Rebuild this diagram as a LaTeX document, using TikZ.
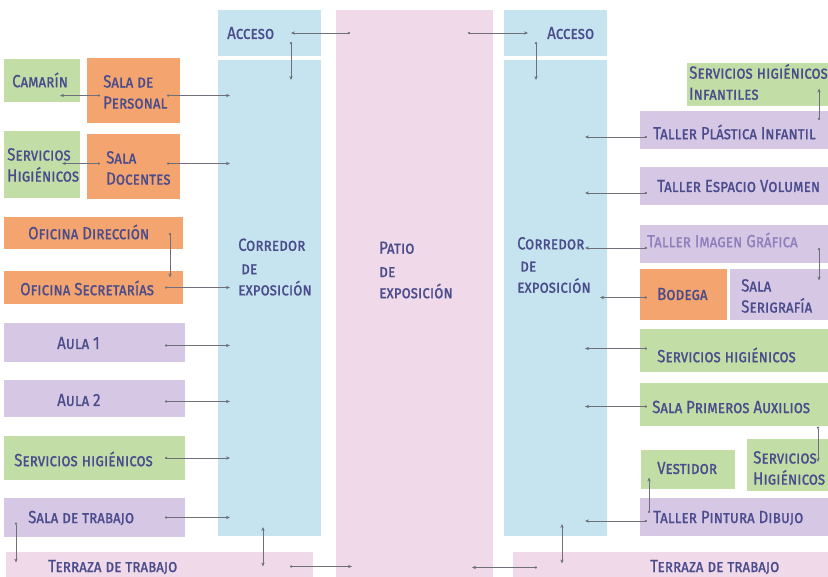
\documentclass[tikz,border=0pt]{standalone}
\usepackage{fontspec}
\usepackage{xcolor}
\usepackage{tikz}
\usetikzlibrary{arrows.meta, positioning, fit, calc}

\newfontfamily\roomfont{Fira Sans}[FakeStretch=0.85, FakeBold=0.8]

\definecolor{corrblue}{HTML}{C6E4F0}
\definecolor{patiopink}{HTML}{F0DAEA}
\definecolor{roomgreen}{HTML}{C2DDA6}
\definecolor{roomorange}{HTML}{F4A46E}
\definecolor{roompurple}{HTML}{D6C7E5}
\definecolor{ink}{HTML}{4A4C8C}
\definecolor{inklight}{HTML}{8E80BC}
\definecolor{linkgray}{HTML}{6F6F7A}

\tikzset{
  room/.style={inner sep=0pt, outer sep=0pt, fill=#1},
  lbl/.style={font=\roomfont\scshape\fontsize{15}{18}\selectfont, text=ink,
    anchor=west, inner sep=0pt, align=left},
  link/.style={draw=linkgray, line width=0.5pt,
    {Circle[length=0.7mm]}-{Stealth[length=1.2mm, width=1mm]}},
  linkboth/.style={draw=linkgray, line width=0.5pt,
    {Stealth[length=1.2mm, width=1mm]}-{Stealth[length=1.2mm, width=1mm]}},
}

\begin{document}
\begin{tikzpicture}[x=0.3mm, y=-0.3mm]
  \useasboundingbox (0,0) rectangle (828,577);

  % ── Patio and corridors ──
  \node[room=patiopink, fit={(336,10)(493,577)}] (patio) {};
  \node[room=corrblue, fit={(218,10)(321,56)}] (accL) {};
  \node[room=corrblue, fit={(218,60)(321,536)}] (corrL) {};
  \node[room=corrblue, fit={(504,10)(607,56)}] (accR) {};
  \node[room=corrblue, fit={(504,60)(607,536)}] (corrR) {};

  % ── Left rooms ──
  \node[room=roomgreen, fit={(4,59)(80,102)}] (camarin) {};
  \node[room=roomorange, fit={(87,58)(180,123)}] (perso) {};
  \node[room=roomgreen, fit={(4,131)(80,198)}] (shL) {};
  \node[room=roomorange, fit={(87,134)(180,199)}] (docen) {};
  \node[room=roomorange, fit={(4,217)(183,249)}] (dirc) {};
  \node[room=roomorange, fit={(4,271)(183,304)}] (secr) {};
  \node[room=roompurple, fit={(4,323)(185,362)}] (aula1) {};
  \node[room=roompurple, fit={(4,380)(185,417)}] (aula2) {};
  \node[room=roomgreen, fit={(4,436)(185,480)}] (shL2) {};
  \node[room=roompurple, fit={(4,498)(185,537)}] (trab) {};
  \node[room=patiopink, fit={(6,552)(313,577)}] (terrL) {};

  % ── Right rooms ──
  \node[room=roomgreen, fit={(687,63)(828,106)}] (shinf) {};
  \node[room=roompurple, fit={(640,111)(828,149)}] (plast) {};
  \node[room=roompurple, fit={(640,167)(828,205)}] (espac) {};
  \node[room=roompurple, fit={(640,225)(828,263)}] (imag) {};
  \node[room=roomorange, fit={(640,269)(727,320)}] (bodega) {};
  \node[room=roompurple, fit={(730,269)(828,320)}] (seri) {};
  \node[room=roomgreen, fit={(640,329)(828,372)}] (shR) {};
  \node[room=roomgreen, fit={(640,383)(828,426)}] (aux) {};
  \node[room=roomgreen, fit={(747,439)(828,491)}] (shR2) {};
  \node[room=roomgreen, fit={(641,450)(735,489)}] (vest) {};
  \node[room=roompurple, fit={(640,498)(828,536)}] (pint) {};
  \node[room=patiopink, fit={(513,552)(828,577)}] (terrR) {};

  % ── Labels ──
  \node[lbl] (accL-t) at (227,33) {Acceso};
  \node[lbl] (accR-t) at (547,33) {Acceso};
  \node[lbl] (patio-t) at (379,270) {Patio\\[2pt]de\\exposición};
  \node[lbl] (corrL-t) at (238,267) {Corredor\\[2pt]\,de\\exposición};
  \node[lbl] (corrR-t) at (517,265) {Corredor\\[1pt]\,de\\exposición};

  \node[lbl] (camarin-t) at (12,80) {Camarín};
  \node[lbl] (perso-t) at (103,92) {Sala de\\Personal};
  \node[lbl] (shL-t) at (7,165) {Servicios\\Higiénicos};
  \node[lbl] (docen-t) at (106,168) {Sala\\Docentes};
  \node[lbl] (dirc-t) at (28,232) {Oficina Dirección};
  \node[lbl] (secr-t) at (20,288) {Oficina Secretarías};
  \node[lbl] (aula1-t) at (57,343) {Aula 1};
  \node[lbl] (aula2-t) at (57,400) {Aula 2};
  \node[lbl] (shL2-t) at (14,459) {Servicios higiénicos};
  \node[lbl] (trab-t) at (28,518) {Sala de trabajo};
  \node[lbl] (terrL-t) at (48,567) {Terraza de trabajo};

  \node[lbl] (shinf-t) at (689,82) {Servicios higiénicos\\Infantiles};
  \node[lbl] (plast-t) at (653,132) {Taller Plástica Infantil};
  \node[lbl] (espac-t) at (657,186) {Taller Espacio Volumen};
  \node[lbl, text=inklight] (imag-t) at (647,240) {Taller Imagen Gráfica};
  \node[lbl] (bodega-t) at (657,294) {Bodega};
  \node[lbl] (seri-t) at (741,296) {Sala\\Serigrafía};
  \node[lbl] (shR-t) at (657,355) {Servicios higiénicos};
  \node[lbl] (aux-t) at (652,407) {Sala Primeros Auxilios};
  \node[lbl] (shR2-t) at (753,468) {Servicios\\Higiénicos};
  \node[lbl] (vest-t) at (657,468) {Vestidor};
  \node[lbl] (pint-t) at (653,518) {Taller Pintura Dibujo};
  \node[lbl] (terrR-t) at (650,567) {Terraza de trabajo};

  % ── Left links ──
  \draw[link] ($(patio.west |- accL.east)+(14,0)$) -- ($(accL.east)+(-30,0)$);
  \draw[link] ($(accL.east)+(-30,9)$) -- ($(corrL.north east)+(-30,20)$);
  \draw[link] ($(perso.west)+(13,5)$) -- ($(camarin.east |- perso.west)+(-20,5)$);
  \draw[link] ($(perso.east)+(-13,5)$) -- ($(corrL.west |- perso.east)+(12,5)$);
  \draw[link] ($(docen.west)+(13,-3)$) -- ($(shL.east |- docen.west)+(-18,-3)$);
  \draw[link] ($(docen.east)+(-13,-3)$) -- ($(corrL.west |- docen.east)+(12,-3)$);
  \draw[link] ($(dirc.east)+(-13,0)$) -- ($(secr.east)+(-13,-10)$);
  \draw[link] ($(secr.east)+(-18,0)$) -- ($(corrL.west |- secr.east)+(12,0)$);
  \draw[link] ($(aula1.east)+(-20,3)$) -- ($(corrL.west |- aula1.east)+(12,3)$);
  \draw[link] ($(aula2.east)+(-20,3)$) -- ($(corrL.west |- aula2.east)+(12,3)$);
  \draw[link] ($(shL2.east)+(-20,0)$) -- ($(corrL.west |- shL2.east)+(12,0)$);
  \draw[link] ($(trab.east)+(-20,0)$) -- ($(corrL.west |- trab.east)+(12,0)$);
  \draw[link] ($(trab.west)+(12,5)$) -- ($(terrL.west)+(10,-2)$);
  \draw[linkboth] ($(corrL.south west)+(45,-9)$) -- ($(corrL.south west |- terrL.west)+(45,2)$);
  \draw[link] ($(terrL.east)+(-23,2)$) -- ($(patio.west |- terrL.west)+(16,2)$);

  % ── Right links ──
  \draw[link] ($(patio.east |- accR.west)+(-25,0)$) -- ($(accR.west)+(24,0)$);
  \draw[link] ($(accR.west)+(32,9)$) -- ($(corrR.north west)+(32,20)$);
  \draw[link] ($(plast.east)+(-9,-10)$) -- ($(shinf.east)+(-9,4)$);
  \draw[link] ($(plast.west)+(7,7)$) -- ($(corrR.east |- plast.west)+(-22,7)$);
  \draw[link] ($(espac.west)+(7,7)$) -- ($(corrR.east |- espac.west)+(-22,7)$);
  \draw[link] ($(imag.west)+(7,4)$) -- ($(corrR.east |- imag.west)+(-22,4)$);
  \draw[link] ($(imag.east)+(-9,4)$) -- ($(seri.east)+(-9,-14)$);
  \draw[link] ($(bodega.west)+(7,3)$) -- ($(corrR.east |- bodega.west)+(-7,3)$);
  \draw[link] ($(shR.west)+(7,-2)$) -- ($(corrR.east |- shR.west)+(-22,-2)$);
  \draw[link] ($(aux.west)+(7,2)$) -- ($(corrR.east |- aux.west)+(-22,2)$);
  \draw[link] ($(aux.east)+(-10,22)$) -- ($(shR2.east)+(-10,-3)$);
  \draw[link] ($(pint.west)+(9,-4)$) -- ($(vest.west)+(8,8)$);
  \draw[link] ($(pint.west)+(7,4)$) -- ($(corrR.east |- pint.west)+(-22,4)$);
  \draw[linkboth] ($(corrR.south west)+(58,-12)$) -- ($(corrR.south west |- terrR.west)+(58,-1)$);
  \draw[link] ($(terrR.west)+(24,3)$) -- ($(patio.east |- terrR.west)+(-21,3)$);
\end{tikzpicture}
\end{document}
